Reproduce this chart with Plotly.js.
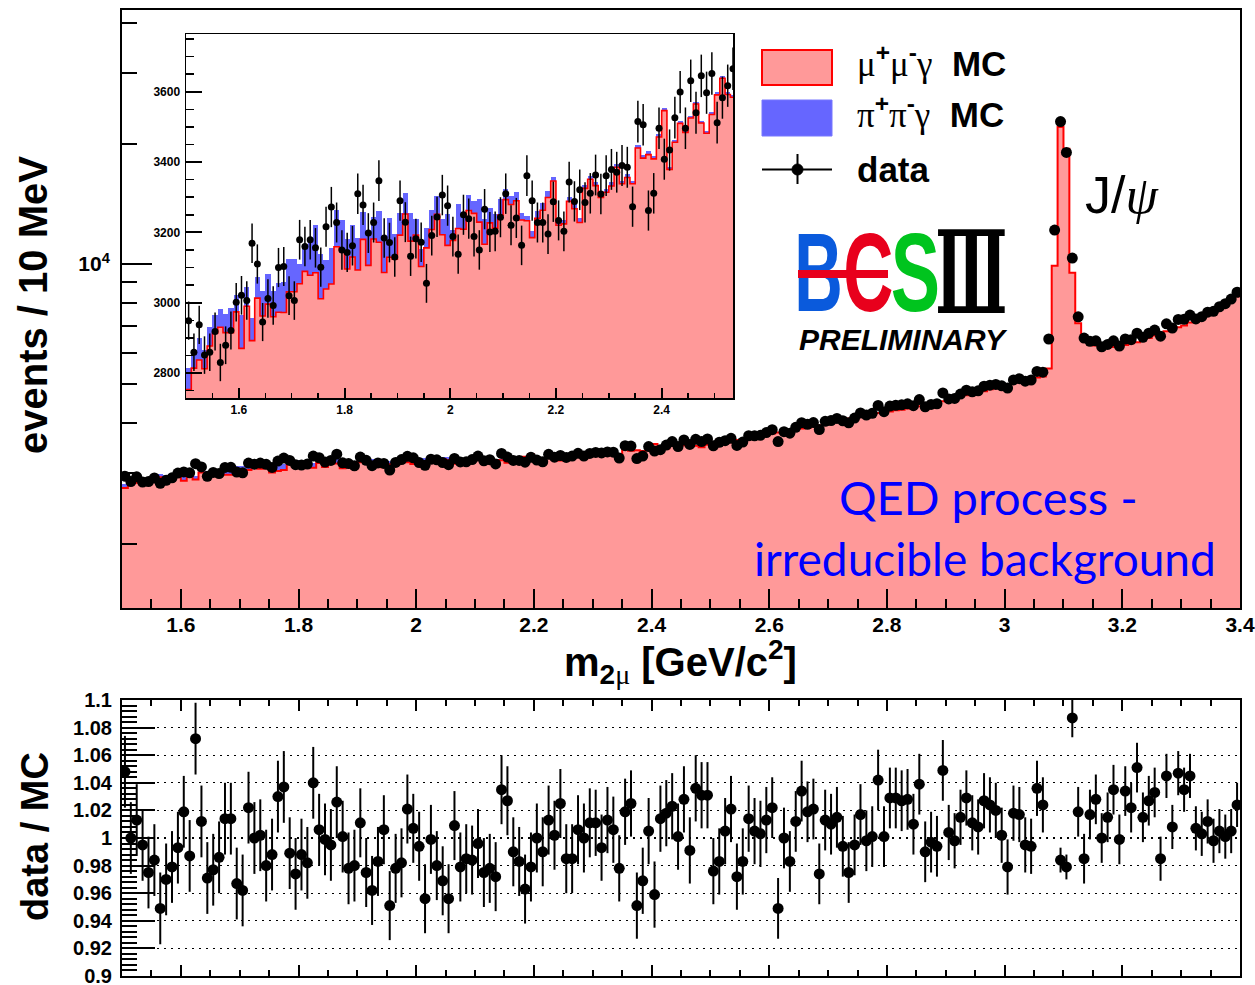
<!DOCTYPE html>
<html><head><meta charset="utf-8">
<script src="https://cdn.plot.ly/plotly-3.0.1.min.js"></script>
<style>html,body{margin:0;padding:0;background:#fff;} #chart{width:1255px;height:985px;}</style>
</head><body><div id="chart"></div>
<script>
// ---- binning (10 MeV bins from 1.50 to 3.40 GeV/c^2) ----
const binLow = 1.50;
const binWidth = 0.01;

// ---- mu+mu-gamma MC (events / 10 MeV) ----
const mumuMC = [
2753,2814,2837,2812,2877,2914,2930,2915,2915,2974,
2870,2990,2892,3013,2962,2996,2960,2973,2972,3031,
3031,3054,3089,3078,3085,3011,3039,3053,3159,3149,
3096,3130,3093,3180,3106,3181,3172,3086,3129,3124,
3192,3252,3175,3192,3103,3156,3208,3251,3193,3163,
3177,3211,3209,3262,3254,3229,3166,3227,3212,3249,
3293,3279,3290,3235,3233,3185,3240,3263,3299,3346,
3220,3224,3288,3267,3228,3325,3351,3333,3299,3314,
3332,3385,3338,3356,3338,3440,3411,3421,3409,3471,
3546,3379,3456,3510,3484,3525,3565,3511,3482,3535,
3591,3638,3592,3584,3630,3638,3672,3690,3722,3730,
3770,3790,3800,3842,3850,3880,3890,3930,3950,3992,
4010,4052,4070,4112,4130,4170,4190,4232,4240,4270,
4280,4312,4320,4352,4370,4410,4430,4472,4490,4540,
4570,4622,4650,4700,4730,4782,4810,4862,4890,4952,
4990,5040,5070,5122,5150,5200,5230,5476,9896,22016,
19416,9506,7106,6636,6296,6252,6200,6204,6198,6244,
6270,6336,6378,6466,6528,6626,6688,6786,6848,6946,
7018,7136,7228,7366,7478,7636,7768,7956,8118,8306];

// ---- pi+pi-gamma MC (stacked on top) ----
const pipiMC = [
61,45,62,53,55,52,52,53,69,48,
95,56,64,60,71,87,74,84,88,92,
94,57,71,95,135,128,83,102,105,85,
85,90,90,78,95,63,90,95,113,70,
62,60,81,45,50,56,55,52,45,90,
30,71,44,43,36,66,71,43,40,47,
30,24,24,19,14,19,21,21,19,12,
14,11,12,14,12,10,10,10,10,10,
10,10,9,9,9,9,9,9,8,8,
8,8,8,8,8,7,7,7,7,7,
7,7,7,6,6,6,6,6,6,6,
6,6,6,6,6,6,6,6,6,6,
6,5,5,5,5,5,5,5,5,5,
5,5,5,5,5,5,5,5,5,5,
5,5,5,5,5,5,5,5,5,5,
5,5,5,5,5,5,5,4,4,4,
4,4,4,4,4,4,4,4,4,4,
4,4,4,4,4,4,4,4,4,4,
4,4,4,4,4,4,4,4,4,4];

// ---- data (events / 10 MeV) ----
const dataCounts = [
2949,2859,2937,2851,2859,2918,2830,2879,2921,3001,
3021,3006,3169,3110,2945,3012,2992,3100,3103,3020,
3006,3179,3160,3179,3156,3101,3216,3272,3228,3150,
3143,3162,3310,3278,3198,3228,3347,3184,3171,3130,
3290,3229,3132,3182,3172,3055,3191,3244,3306,3276,
3188,3138,3250,3239,3188,3150,3266,3201,3203,3243,
3310,3220,3241,3163,3361,3290,3228,3228,3195,3287,
3234,3203,3343,3288,3321,3285,3311,3363,3309,3361,
3379,3371,3390,3385,3273,3515,3506,3262,3311,3496,
3408,3434,3526,3599,3496,3631,3540,3645,3597,3652,
3512,3583,3617,3665,3519,3588,3721,3719,3731,3789,
3853,3597,3810,3775,3906,4012,3974,4013,3857,4042,
4060,4111,4056,4007,4119,4241,4192,4234,4429,4274,
4414,4435,4447,4472,4424,4582,4396,4457,4473,4762,
4598,4611,4730,4836,4792,4818,4950,4977,4998,4960,
4895,5131,5166,5094,5129,5387,5366,6494,12160,22700,
19010,10350,7380,6530,6407,6425,6210,6293,6427,6234,
6494,6469,6716,6557,6717,6838,6600,7085,6915,7266,
7276,7451,7291,7382,7580,7615,7819,7958,8171,8499];

// ---- data / MC ratio and its uncertainty ----
const ratioValues = [
1.048,1.000,1.013,0.995,0.975,0.984,0.949,0.970,0.979,0.993,
1.019,0.987,1.072,1.012,0.971,0.977,0.986,1.014,1.014,0.967,
0.962,1.022,1.000,1.002,0.980,0.988,1.030,1.037,0.989,0.974,
0.988,0.982,1.040,1.006,0.999,0.995,1.026,1.001,0.978,0.980,
1.011,0.975,0.962,0.983,1.006,0.951,0.978,0.982,1.021,1.007,
0.994,0.956,0.999,0.980,0.969,0.956,1.009,0.979,0.985,0.984,
0.996,0.975,0.978,0.972,1.035,1.027,0.990,0.983,0.963,0.979,
1.000,0.990,1.013,1.002,1.025,0.985,0.985,1.006,1.000,1.011,
1.011,0.993,1.013,1.006,0.978,1.019,1.025,0.951,0.969,1.005,
0.959,1.014,1.018,1.023,1.001,1.028,0.991,1.036,1.031,1.031,
0.976,0.983,1.005,1.021,0.972,0.983,1.014,1.005,1.003,1.013,
1.022,0.949,1.000,0.983,1.012,1.034,1.019,1.021,0.974,1.013,
1.010,1.015,0.994,0.975,0.995,1.017,0.998,1.001,1.042,1.001,
1.029,1.029,1.027,1.028,1.010,1.039,0.990,0.997,0.994,1.049,
1.004,0.998,1.015,1.029,1.011,1.008,1.027,1.024,1.020,1.002,
0.979,1.018,1.017,0.995,0.994,1.036,1.024,null,null,0.984,
0.979,1.087,1.019,0.985,1.017,1.028,1.000,1.015,1.035,0.999,
1.034,1.022,1.051,1.015,1.027,1.033,0.985,1.045,1.008,1.047,
1.035,1.045,1.007,1.003,1.012,0.998,1.005,1.001,1.005,1.024];

const ratioErrors = [
0.026,0.026,0.026,0.026,0.026,0.026,0.026,0.026,0.026,0.026,
0.026,0.026,0.026,0.026,0.026,0.026,0.026,0.026,0.026,0.026,
0.026,0.026,0.026,0.026,0.026,0.026,0.026,0.026,0.026,0.026,
0.026,0.026,0.026,0.026,0.026,0.026,0.026,0.026,0.026,0.026,
0.025,0.025,0.025,0.025,0.025,0.025,0.025,0.025,0.025,0.025,
0.025,0.025,0.025,0.025,0.025,0.025,0.025,0.025,0.025,0.025,
0.025,0.025,0.025,0.025,0.025,0.025,0.025,0.025,0.025,0.025,
0.025,0.025,0.025,0.025,0.025,0.025,0.025,0.025,0.025,0.025,
0.024,0.024,0.024,0.024,0.024,0.024,0.024,0.024,0.024,0.024,
0.024,0.024,0.024,0.024,0.024,0.024,0.024,0.024,0.024,0.024,
0.024,0.024,0.024,0.024,0.024,0.024,0.024,0.024,0.024,0.024,
0.022,0.022,0.022,0.022,0.022,0.022,0.022,0.022,0.022,0.022,
0.022,0.022,0.022,0.022,0.022,0.022,0.022,0.022,0.022,0.022,
0.022,0.022,0.022,0.022,0.022,0.022,0.022,0.022,0.022,0.022,
0.020,0.020,0.020,0.020,0.020,0.020,0.020,0.020,0.020,0.020,
0.020,0.020,0.020,0.020,0.020,0.020,0.020,0,0,0.009,
0.009,0.014,0.018,0.018,0.018,0.018,0.018,0.018,0.018,0.018,
0.018,0.018,0.018,0.018,0.018,0.018,0.016,0.016,0.016,0.016,
0.016,0.016,0.016,0.016,0.016,0.016,0.016,0.016,0.016,0.016];

// ---- tick labels ----
const mainLogTickVals = [10000];
const mainLogTickText = ['10<sup>4</sup>'];
const mainLogMinorVals = [2000,3000,4000,5000,6000,7000,8000,9000,20000,30000,40000];
const ratioTickVals = [0.9,0.92,0.94,0.96,0.98,1.0,1.02,1.04,1.06,1.08,1.1];
const ratioTickText = ['0.9','0.92','0.94','0.96','0.98','1','1.02','1.04','1.06','1.08','1.1'];
const insetTickVals = [2800,3000,3200,3400,3600];
const insetTickText = ['2800','3000','3200','3400','3600'];

// ---- derived bin geometry ----
const nBins = mumuMC.length;
const centers = mumuMC.map((_, i) => Math.round((binLow + (i + 0.5) * binWidth) * 1e4) / 1e4);
const stepX = mumuMC.map((_, i) => Math.round((binLow + i * binWidth) * 1e4) / 1e4).concat([Math.round((binLow + nBins * binWidth) * 1e4) / 1e4]);
const stepY = mumuMC.concat([mumuMC[nBins - 1]]);

const PINK = '#ff9999', BLUE = '#6666ff', RED = '#ff0000';
const FONT = 'Liberation Sans, Arial, Helvetica, sans-serif';
const LOGOFONT = 'Liberation Sans, Arial, sans-serif';

function histTraces(xa, ya, lw) {
  return [
    {type:'bar', x:centers, y:mumuMC, width:binWidth, marker:{color:PINK, line:{width:0}}, xaxis:xa, yaxis:ya, hoverinfo:'skip'},
    {type:'bar', x:centers, y:pipiMC, width:binWidth, marker:{color:BLUE, line:{width:0}}, xaxis:xa, yaxis:ya, hoverinfo:'skip'},
    {type:'scatter', mode:'lines', x:stepX, y:stepY, line:{shape:'hv', color:RED, width:lw}, xaxis:xa, yaxis:ya, hoverinfo:'skip'}
  ];
}

const traces = [
  ...histTraces('x', 'y', 2),
  {type:'scatter', mode:'markers', x:centers, y:dataCounts, xaxis:'x', yaxis:'y',
   marker:{color:'black', size:11}, error_y:{type:'sqrt', color:'black', thickness:1.5, width:0}},
  ...histTraces('x2', 'y2', 1.6),
  {type:'scatter', mode:'markers', x:centers, y:dataCounts, xaxis:'x2', yaxis:'y2',
   marker:{color:'black', size:7}, error_y:{type:'sqrt', color:'black', thickness:1.5, width:0}},
  {type:'scatter', mode:'markers', x:centers, y:ratioValues, xaxis:'x3', yaxis:'y3',
   marker:{color:'black', size:11}, error_y:{type:'data', array:ratioErrors, color:'black', thickness:2, width:0}}
];

const W = 1255, H = 985;
const px = v => v / W;
const py = v => 1 - v / H;

const axBase = {showline:true, linecolor:'black', linewidth:2, mirror:true, ticks:'inside', tickcolor:'black', tickwidth:2, zeroline:false, showgrid:false, fixedrange:true, ticklabeloverflow:'allow'};

// annotation index -> horizontal squeeze factor (for the narrow logo lettering)
const squeeze = {};

const annotations = [
  {text:'events / 10 MeV', xref:'paper', yref:'paper', x:px(33), y:py(305), textangle:-90, showarrow:false, xanchor:'center', yanchor:'middle', font:{family:FONT, size:40, weight:'bold'}},
  {text:'m<sub>2<span style="font-family:Liberation Serif;font-weight:normal">μ</span></sub> [GeV/c<sup>2</sup>]', xref:'paper', yref:'paper', x:px(680), y:py(662), showarrow:false, xanchor:'center', yanchor:'middle', font:{family:FONT, size:40, weight:'bold'}},
  {text:'data / MC', xref:'paper', yref:'paper', x:px(35), y:py(837), textangle:-90, showarrow:false, xanchor:'center', yanchor:'middle', font:{family:FONT, size:38, weight:'bold'}},
  {text:'<span style="font-family:Liberation Serif;font-weight:normal">μ</span><sup>+</sup><span style="font-family:Liberation Serif;font-weight:normal">μ</span><sup>-</sup><span style="font-family:Liberation Serif;font-weight:normal">γ</span>  MC', xref:'paper', yref:'paper', x:px(855), y:py(61), showarrow:false, xanchor:'left', yanchor:'middle', font:{family:FONT, size:35, weight:'bold'}},
  {text:'<span style="font-family:Liberation Serif;font-weight:normal">π</span><sup>+</sup><span style="font-family:Liberation Serif;font-weight:normal">π</span><sup>-</sup><span style="font-family:Liberation Serif;font-weight:normal">γ</span>  MC', xref:'paper', yref:'paper', x:px(855), y:py(113), showarrow:false, xanchor:'left', yanchor:'middle', font:{family:FONT, size:35, weight:'bold'}},
  {text:'data', xref:'paper', yref:'paper', x:px(855), y:py(170), showarrow:false, xanchor:'left', yanchor:'middle', font:{family:FONT, size:35, weight:'bold'}},
  {text:'<i>PRELIMINARY</i>', xref:'paper', yref:'paper', x:px(903), y:py(340), showarrow:false, xanchor:'center', yanchor:'middle', font:{family:FONT, size:30, weight:'bold'}},
  {text:'J/<span style="font-family:Liberation Serif"><i>ψ</i></span>', xref:'paper', yref:'paper', x:px(1122), y:py(195), showarrow:false, xanchor:'center', yanchor:'middle', font:{family:FONT, size:52}},
  {text:'QED process -', xref:'paper', yref:'paper', x:px(837), y:py(497), showarrow:false, xanchor:'left', yanchor:'middle', font:{family:'Lato, Open Sans, sans-serif', size:47, color:'#0000ff'}},
  {text:'irreducible background', xref:'paper', yref:'paper', x:px(1218), y:py(558), showarrow:false, xanchor:'right', yanchor:'middle', font:{family:'Lato, Open Sans, sans-serif', size:46, color:'#0000ff'}}
];
function addLogo(text, cx, color, family, size, sx) {
  squeeze[annotations.length] = sx;
  annotations.push({text:text, xref:'paper', yref:'paper', x:px(cx), y:py(273), showarrow:false, xanchor:'center', yanchor:'middle', font:{family:family, size:size, weight:'bold', color:color}});
}
addLogo('B', 819, '#0a5adc', LOGOFONT, 112, 0.60);
addLogo('C', 868, '#e8001c', LOGOFONT, 112, 0.62);
// red bar of the logo, drawn over B and E
annotations.push({text:' ', xref:'paper', yref:'paper', x:px(843), y:py(274), showarrow:false, xanchor:'center', yanchor:'middle', width:90, height:8, bgcolor:'#e8001c', borderpad:0, borderwidth:0, font:{size:4}});
addLogo('S', 915, '#00c41e', LOGOFONT, 112, 0.66);
addLogo('Ⅲ', 971, 'black', 'DejaVu Serif, Liberation Serif', 114, 0.52);

const layout = {
  width:W, height:H, margin:{l:0, r:0, t:0, b:0},
  paper_bgcolor:'white', plot_bgcolor:'rgba(0,0,0,0)',
  showlegend:false, barmode:'stack', bargap:0,
  font:{family:FONT, color:'black'},
  xaxis: Object.assign({}, axBase, {
    domain:[px(122), px(1240)], anchor:'y', range:[1.5, 3.4], tick0:0, dtick:0.2, ticklen:19,
    minor:{dtick:0.05, ticklen:9, ticks:'inside', tickcolor:'black', tickwidth:2, showgrid:false},
    tickfont:{family:FONT, size:21, weight:'bold'}, ticklabelstandoff:-3
  }),
  yaxis: Object.assign({}, axBase, {
    domain:[py(608), py(10)], anchor:'x', type:'log', range:[3.14, 4.635],
    tickmode:'array', tickvals:mainLogTickVals, ticktext:mainLogTickText, ticklen:30,
    minor:{tickmode:'array', tickvals:mainLogMinorVals, ticklen:15, ticks:'inside', tickcolor:'black', tickwidth:2, showgrid:false},
    tickfont:{family:FONT, size:21, weight:'bold'}, ticklabelstandoff:6
  }),
  xaxis2: Object.assign({}, axBase, {
    domain:[px(186), px(733)], anchor:'y2', range:[1.5, 2.535], tick0:0, dtick:0.2, ticklen:10, linewidth:1.5,
    minor:{dtick:0.05, ticklen:5, ticks:'inside', tickcolor:'black', tickwidth:1.5},
    tickfont:{family:FONT, size:12, weight:'bold'}, ticklabelstandoff:0
  }),
  yaxis2: Object.assign({}, axBase, {
    domain:[py(398), py(34)], anchor:'x2', range:[2729, 3764], tickmode:'array', tickvals:insetTickVals, ticktext:insetTickText, ticklen:16, linewidth:1.5,
    minor:{dtick:50, tick0:0, ticklen:8, ticks:'inside', tickcolor:'black', tickwidth:1.5},
    tickfont:{family:FONT, size:12, weight:'bold'}, ticklabelstandoff:2
  }),
  xaxis3: Object.assign({}, axBase, {
    domain:[px(122), px(1240)], anchor:'y3', range:[1.5, 3.4], tick0:0, dtick:0.2, ticklen:11, mirror:'ticks',
    minor:{dtick:0.05, ticklen:6, ticks:'inside', tickcolor:'black', tickwidth:2},
    showticklabels:false
  }),
  yaxis3: Object.assign({}, axBase, {
    domain:[py(976), py(700)], anchor:'x3', range:[0.9, 1.1], tickmode:'array', tickvals:ratioTickVals, ticktext:ratioTickText, ticklen:33,
    minor:{dtick:0.004, tick0:0.9, ticklen:15, ticks:'inside', tickcolor:'black', tickwidth:2},
    showgrid:true, gridcolor:'black', gridwidth:1.3, griddash:'2px,5px',
    tickfont:{family:FONT, size:20, weight:'bold'}, ticklabelstandoff:4
  }),
  shapes: [
    {type:'rect', xref:'paper', yref:'paper', x0:px(762), x1:px(832), y0:py(85), y1:py(50), fillcolor:PINK, line:{color:RED, width:2}},
    {type:'rect', xref:'paper', yref:'paper', x0:px(762), x1:px(832), y0:py(136), y1:py(100), fillcolor:BLUE, line:{color:'#7777ff', width:1}},
    {type:'line', xref:'paper', yref:'paper', x0:px(762), x1:px(832), y0:py(169.5), y1:py(169.5), line:{color:'black', width:2}},
    {type:'line', xref:'paper', yref:'paper', x0:px(797.5), x1:px(797.5), y0:py(184), y1:py(154), line:{color:'black', width:2}},
    {type:'circle', xref:'paper', yref:'paper', x0:px(792), x1:px(803), y0:py(175), y1:py(164), fillcolor:'black', line:{color:'black', width:1}}
  ],
  annotations: annotations
};

Plotly.newPlot('chart', traces, layout, {staticPlot:true, displayModeBar:false}).then(gd => {
  gd.querySelectorAll('g.annotation').forEach(g => {
    const idx = +g.getAttribute('data-index');
    const sx = squeeze[idx];
    if (!sx) return;
    const t = g.querySelector('text');
    if (!t) return;
    const bb = t.getBBox();
    const cx = bb.x + bb.width / 2;
    t.setAttribute('transform', 'translate(' + cx + ',0) scale(' + sx + ',1) translate(' + (-cx) + ',0)');
  });
});
</script>
</body></html>
